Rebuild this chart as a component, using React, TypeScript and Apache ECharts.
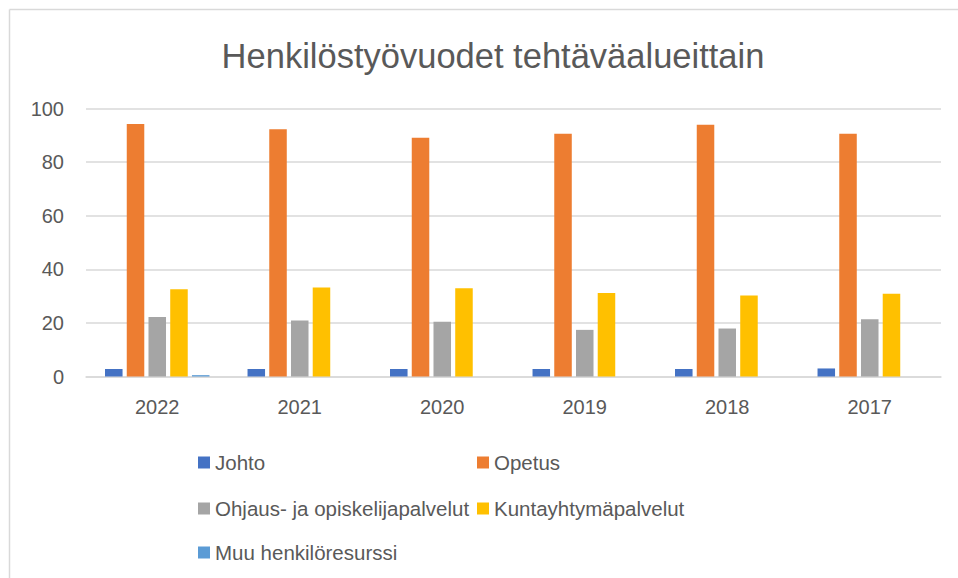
import React, { useEffect, useRef } from "react";
import * as echarts from "echarts";

const years = ["2022", "2021", "2020", "2019", "2018", "2017"];
const johto = [2.8, 2.8, 2.8, 2.8, 2.8, 3.0];
const opetus = [94.2, 92.3, 89.1, 90.6, 93.9, 90.6];
const ohjaus = [22.2, 20.9, 20.4, 17.4, 17.9, 21.4];
const kunta = [32.6, 33.2, 32.9, 31.2, 30.2, 30.9];
const muu = [0.5, 0, 0, 0, 0, 0];

const seriesNames = [
  "Johto",
  "Opetus",
  "Ohjaus- ja opiskelijapalvelut",
  "Kuntayhtymäpalvelut",
  "Muu henkilöresurssi",
];
const seriesData = [johto, opetus, ohjaus, kunta, muu];
const colors = ["#4472C4", "#ED7D31", "#A5A5A5", "#FFC000", "#5B9BD5"];

const FONT = "'Liberation Sans', Arial, sans-serif";
const TXT = "#595959";

export default function App() {
  const ref = useRef<HTMLDivElement>(null);
  useEffect(() => {
    if (!ref.current) return;
    const chart = echarts.init(ref.current, null, { renderer: "svg" });
    const legendPos = [
      [198, 452],
      [477, 452],
      [198, 498],
      [477, 498],
      [198, 542],
    ];
    chart.setOption({
      animation: false,
      textStyle: { fontFamily: FONT },
      title: {
        text: "Henkilöstyövuodet tehtäväalueittain",
        left: 488,
        textAlign: "center",
        top: 33,
        textStyle: { fontFamily: FONT, fontSize: 34.5, fontWeight: "normal", color: TXT },
      },
      graphic: [
        {
          type: "line",
          shape: { x1: 9.5, y1: 9.5, x2: 958, y2: 9.5 },
          style: { stroke: "#D9D9D9", lineWidth: 1.5 },
        },
        {
          type: "line",
          shape: { x1: 9.5, y1: 9.5, x2: 9.5, y2: 578 },
          style: { stroke: "#D9D9D9", lineWidth: 1.5 },
        },
      ],
      legend: seriesNames.map((n, i) => ({
        data: [n],
        left: legendPos[i][0],
        top: legendPos[i][1],
        icon: "rect",
        itemWidth: 12,
        itemHeight: 12,
        padding: 0,
        textStyle: { fontFamily: FONT, fontSize: 20.5, color: TXT },
      })),
      grid: { left: 86, right: 17, top: 108.5, bottom: 201.5, containLabel: false },
      xAxis: {
        type: "category",
        data: years,
        axisLine: { lineStyle: { color: "#D9D9D9", width: 1.5 } },
        axisTick: { show: false },
        axisLabel: { fontFamily: FONT, fontSize: 20, color: TXT, margin: 20 },
      },
      yAxis: {
        type: "value",
        min: 0,
        max: 100,
        interval: 20,
        axisLine: { show: false },
        axisTick: { show: false },
        splitLine: { lineStyle: { color: "#D9D9D9", width: 1.5 } },
        axisLabel: { fontFamily: FONT, fontSize: 20, color: TXT, margin: 22 },
      },
      series: seriesNames.map((n, i) => ({
        name: n,
        type: "bar",
        data: seriesData[i],
        itemStyle: { color: colors[i] },
        barGap: "24%",
        barCategoryGap: "26.7%",
      })),
    });
    return () => chart.dispose();
  }, []);
  return <div ref={ref} style={{ width: 958, height: 578, position: "absolute", left: 0, top: 0 }} />;
}
